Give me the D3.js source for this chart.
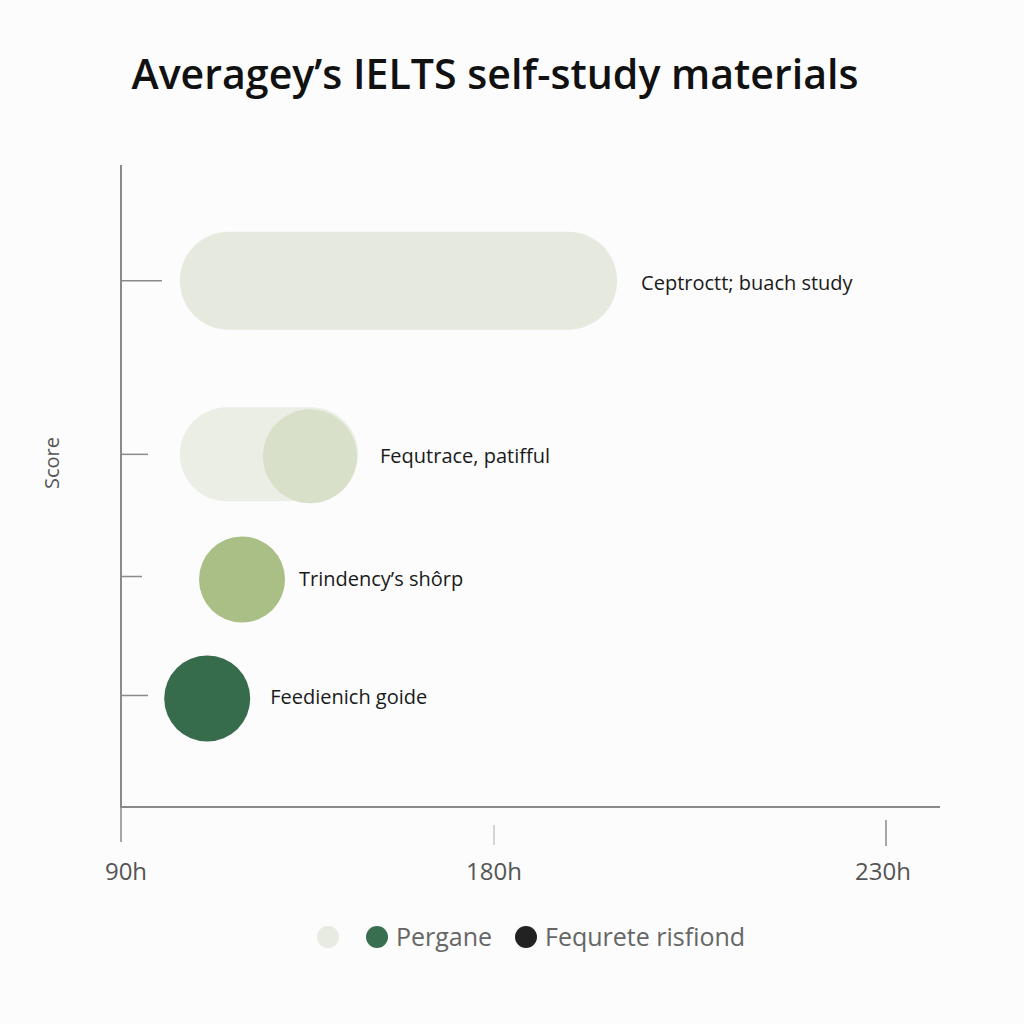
<!DOCTYPE html>
<html>
<head>
<meta charset="utf-8">
<script src="https://cdn.jsdelivr.net/npm/d3@7"></script>
<style>
  body { margin: 0; background: #fbfcfb; }
  svg { display: block; }
</style>
</head>
<body>
<svg id="chart"></svg>
<script>
// data
let categories = ['Ceptroctt; buach study', 'Fequtrace, patifful', 'Trindency\u2019s sh\u00f4rp', 'Feedienich goide']
let scores     = [8.2, 5.5, 3.6, 1.75]
let barStart   = [104.2, 104.2, null, null]   // hours
let barEnd     = [195.7, 147.2, null, null]
let dotHours   = [null, 135.6, 119.2, 110.8]
let xTicks     = [90, 180, 230]
let legendNames = ['', 'Pergane', 'Fequrete risfiond']

let width = 1024
let height = 1024

// styles
let barColors = ['#e6e9de', '#ebeee5', null, null]
let dotColors = [null, '#d9e0c9', '#a9bf86', '#366b4c']
let rowSize   = [98, 94, 86, 86]
let tickLen   = [41, 27, 21, 27]
let labelGap  = [24, 22, 14, 20]
let legendColors = ['#e8ebe1', '#3a6e50', '#222222']

let svg = d3.select('#chart')
  .attr('width', width)
  .attr('height', height)

svg.append('rect')
  .attr('width', width)
  .attr('height', height)
  .attr('fill', '#fbfcfb')

let x = d3.scaleLinear()
  .domain(xTicks)
  .range([121, 494, 886])

let y = d3.scaleLinear()
  .domain([0, 10])
  .range([808, 165])

// title
svg.append('text')
  .attr('x', 495)
  .attr('y', 89)
  .attr('text-anchor', 'middle')
  .attr('font-family', 'Open Sans')
  .attr('font-weight', 600)
  .attr('font-size', 41)
  .attr('textLength', 727)
  .attr('lengthAdjust', 'spacingAndGlyphs')
  .attr('fill', '#111')
  .text('Averagey\u2019s IELTS self-study materials')

// axes
svg.append('line')
  .attr('x1', 121).attr('x2', 121)
  .attr('y1', 165).attr('y2', 808)
  .attr('stroke', '#8a8a8a').attr('stroke-width', 2)

svg.append('line')
  .attr('x1', 120).attr('x2', 940)
  .attr('y1', 807).attr('y2', 807)
  .attr('stroke', '#8a8a8a').attr('stroke-width', 2)

// y ticks
svg.selectAll('.ytick')
  .data(scores)
  .enter()
  .append('line')
  .attr('class', 'ytick')
  .attr('x1', 121)
  .attr('x2', (d, i) => 121 + tickLen[i])
  .attr('y1', d => y(d))
  .attr('y2', d => y(d))
  .attr('stroke', '#8a8a8a')
  .attr('stroke-width', 1.5)

// x ticks
let tickTop = [808, 825, 820]
let tickBottom = [842, 845, 846]
let tickColor = ['#8a8a8a', '#c8c8c8', '#8a8a8a']

svg.selectAll('.xtick')
  .data(xTicks)
  .enter()
  .append('line')
  .attr('class', 'xtick')
  .attr('x1', d => x(d))
  .attr('x2', d => x(d))
  .attr('y1', (d, i) => tickTop[i])
  .attr('y2', (d, i) => tickBottom[i])
  .attr('stroke', (d, i) => tickColor[i])
  .attr('stroke-width', 1.5)

svg.selectAll('.xlabel')
  .data(xTicks)
  .enter()
  .append('text')
  .attr('class', 'xlabel')
  .attr('x', (d, i) => x(d) + (i === 0 ? 5 : (i === 2 ? -3 : 0)))
  .attr('y', 880)
  .attr('text-anchor', 'middle')
  .attr('font-family', 'Open Sans')
  .attr('font-weight', 500)
  .attr('font-size', 24)
  .attr('fill', '#555')
  .text(d => d + 'h')

// y label
svg.append('text')
  .attr('transform', 'translate(59,463) rotate(-90)')
  .attr('text-anchor', 'middle')
  .attr('font-family', 'Open Sans')
  .attr('font-size', 20)
  .attr('fill', '#555')
  .text('Score')

// rows
let rows = categories.map((c, i) => ({
  name: c, score: scores[i], start: barStart[i], end: barEnd[i], dot: dotHours[i], i: i
}))

let g = svg.selectAll('.row')
  .data(rows)
  .enter()
  .append('g')
  .attr('class', 'row')

g.filter(d => d.start !== null)
  .append('rect')
  .attr('x', d => x(d.start))
  .attr('y', d => y(d.score) - rowSize[d.i] / 2)
  .attr('width', d => x(d.end) - x(d.start))
  .attr('height', d => rowSize[d.i])
  .attr('rx', d => rowSize[d.i] / 2)
  .attr('fill', d => barColors[d.i])

g.filter(d => d.dot !== null)
  .append('circle')
  .attr('cx', d => x(d.dot))
  .attr('cy', d => y(d.score) + (d.i > 1 ? 3 : 2))
  .attr('r', d => rowSize[d.i] / 2)
  .attr('fill', d => dotColors[d.i])

g.append('text')
  .attr('x', d => (d.end !== null ? x(d.end) : x(d.dot) + rowSize[d.i] / 2) + labelGap[d.i])
  .attr('y', d => y(d.score) + 9)
  .attr('font-family', 'Open Sans')
  .attr('font-weight', 500)
  .attr('font-size', 20)
  .attr('fill', '#1a1a1a')
  .text(d => d.name)

// legend
let legendX = [328, 377, 526]
let lg = svg.selectAll('.legend')
  .data(legendNames)
  .enter()
  .append('g')
  .attr('class', 'legend')
  .attr('transform', (d, i) => 'translate(' + legendX[i] + ',937)')

lg.append('circle')
  .attr('r', 11)
  .attr('fill', (d, i) => legendColors[i])

lg.append('text')
  .attr('x', 19)
  .attr('y', 9)
  .attr('font-family', 'Open Sans')
  .attr('font-size', 25)
  .attr('fill', '#666')
  .text(d => d)
</script>
</body>
</html>
